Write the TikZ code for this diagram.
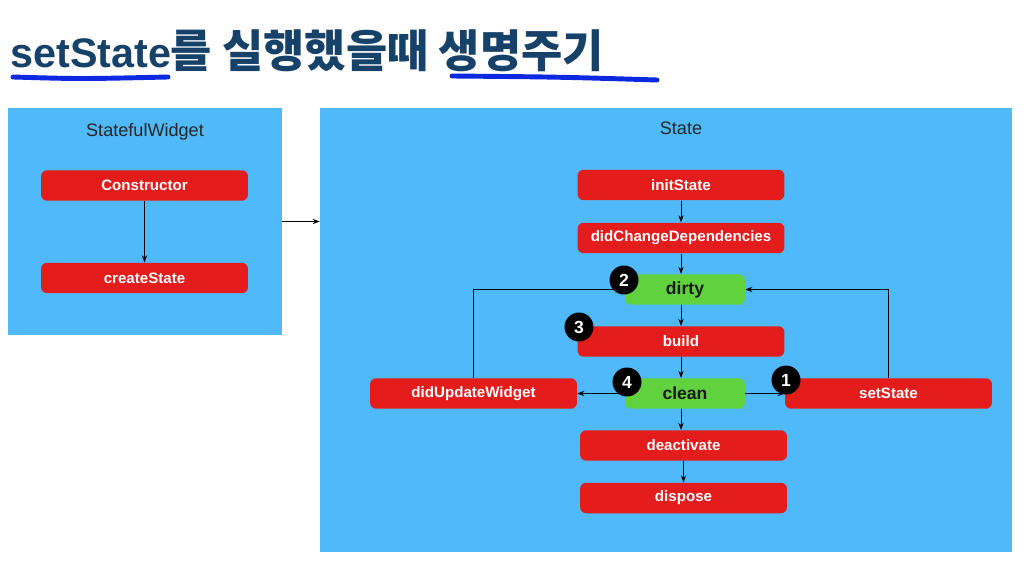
\documentclass[tikz,border=0pt]{standalone}
\usepackage{fontspec}
\setmainfont{Liberation Sans}
\newfontfamily\krfont{Noto Sans CJK KR}
\usetikzlibrary{arrows.meta}
\definecolor{panelblue}{RGB}{80,185,249}
\definecolor{stepred}{RGB}{228,28,28}
\definecolor{stepgreen}{RGB}{96,210,62}
\definecolor{titlenavy}{RGB}{22,66,106}
\definecolor{penblue}{RGB}{12,40,225}
\begin{document}
\begin{tikzpicture}[x=0.02cm, y=-0.02cm,
  panel/.style={fill=panelblue, draw=none, inner sep=0pt},
  redstep/.style={fill=stepred, rounded corners=3.5pt, minimum width=4.14cm, minimum height=0.61cm,
    text=white, font=\fontsize{8.6}{10}\selectfont\bfseries, inner sep=0pt},
  greenstep/.style={fill=stepgreen, rounded corners=3.5pt, minimum width=2.4cm, minimum height=0.61cm,
    text=black!90, font=\fontsize{10}{12}\selectfont\bfseries, inner sep=0pt},
  badge/.style={circle, fill=black, minimum size=0.58cm, inner sep=0pt,
    text=white, font=\fontsize{10}{12}\selectfont\bfseries},
  flow/.style={-{Stealth[length=4pt,width=3pt]}, line width=0.5pt, black}]
\useasboundingbox (0,0) rectangle (1024,564);
\fill[white] (0,0) rectangle (1024,564);

% title
\node[anchor=base west, inner sep=0pt, text=titlenavy, font=\bfseries\fontsize{23.5}{28}\selectfont] (title) at (10,68)
  {setState{\krfont\bfseries\fontsize{25.5}{30}\selectfont 를 실행했을때 생명주기}};
\draw[penblue, line width=2.8pt, line cap=round] (13,77) .. controls (80,79) .. (168,77);
\draw[penblue, line width=2.8pt, line cap=round] (452,76) .. controls (560,77) .. (657,80);

% panels
\node[panel, minimum width=5.48cm, minimum height=4.54cm] (widget) at (145,221.5) {};
\node[panel, minimum width=13.84cm, minimum height=8.88cm] (state) at (666,330) {};
\node[text=black!85, font=\fontsize{10.3}{12}\selectfont] (widgettitle) at (145,132) {StatefulWidget};
\node[text=black!85, font=\fontsize{10.3}{12}\selectfont] (statetitle) at (681,128) {State};

% StatefulWidget
\node[redstep] (ctor) at (144.5,185.5) {Constructor};
\node[redstep] (create) at (144.5,278) {createState};

% State
\node[redstep] (init) at (681,185) {initState};
\node[redstep] (deps) at (681,238) {didChangeDependencies};
\node[greenstep] (dirty) at (685,289.5) {dirty};
\node[redstep] (build) at (681,341.5) {build};
\node[greenstep] (clean) at (685,393.5) {clean};
\node[redstep] (update) at (473.5,393.5) {didUpdateWidget};
\node[redstep] (set) at (888.5,393.5) {setState};
\node[redstep] (deact) at (683.5,445.5) {deactivate};
\node[redstep] (dispose) at (683.5,498) {dispose};

\draw[flow] (ctor) -- (create);
\draw[flow] (widget.east) -- (widget.east -| state.west);
\draw[flow] (init) -- (deps);
\draw[flow] (deps.south) -- (deps.south |- dirty.north);
\draw[flow] (dirty.south -| build.north) -- (build.north);
\draw[flow] (build.south) -- (build.south |- clean.north);
\draw[flow] (clean.south -| build.south) -- (build.south |- deact.north);
\draw[flow] (deact) -- (dispose);
\draw[flow] (clean) -- (update);
\draw[flow] (clean) -- (set);
\draw[flow] (set.north) |- (dirty.east);
\draw[flow] (update.north) |- (dirty.west);

% order of calls
\node[badge] (b1) at (786,380) {1};
\node[badge] (b2) at (624,280) {2};
\node[badge] (b3) at (579,327) {3};
\node[badge] (b4) at (627,382) {4};
\end{tikzpicture}
\end{document}
